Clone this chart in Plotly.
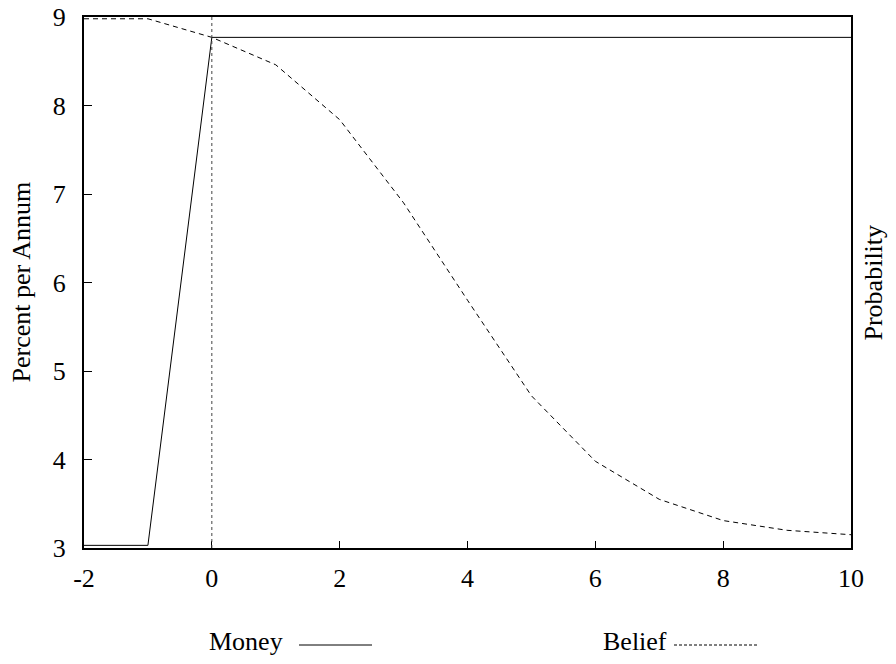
import plotly.graph_objects as go

# values
years = [-2, -1, 0, 1, 2, 3, 4, 5, 6, 7, 8, 9, 10]
money = [3.03, 3.03, 8.77, 8.77, 8.77, 8.77, 8.77, 8.77, 8.77, 8.77, 8.77, 8.77, 8.77]
belief = [8.98, 8.98, 8.77, 8.46, 7.84, 6.90, 5.80, 4.72, 3.98, 3.55, 3.31, 3.20, 3.15]

x_ticks = [-2, 0, 2, 4, 6, 8, 10]
x_labels = ["-2", "0", "2", "4", "6", "8", "10"]
y_ticks = [3, 4, 5, 6, 7, 8, 9]

font = "Liberation Serif, Times New Roman, serif"
fsize = 26

fig = go.Figure()

fig.add_trace(go.Scatter(x=years, y=money, mode="lines", name="Money",
                         line=dict(color="black", width=1)))
fig.add_trace(go.Scatter(x=years, y=belief, mode="lines", name="Belief",
                         line=dict(color="black", width=1, dash="5px,4px")))

# dotted marker at year zero
fig.add_vline(x=0, line=dict(color="#444", width=1, dash="dot"))

# page body adds an 8px margin, so the figure is shrunk to fit the window
fig.update_layout(
    width=880, height=648,
    margin=dict(l=76, r=37, t=9, b=108),
    plot_bgcolor="white", paper_bgcolor="white",
    showlegend=False,
    font=dict(family=font, size=fsize, color="black"),
)

fig.update_xaxes(range=[-2, 10], tickvals=x_ticks, ticktext=x_labels,
                 ticks="inside", ticklen=7, tickwidth=1, tickcolor="black",
                 ticklabelstandoff=6, ticklabeloverflow="allow",
                 showline=True, linewidth=2, linecolor="black", mirror=True,
                 showgrid=False, zeroline=False, automargin=False)
fig.update_yaxes(range=[3, 9], tickvals=y_ticks, ticks="inside", ticklen=8,
                 tickwidth=1, tickcolor="black", ticklabelstandoff=11,
                 ticklabeloverflow="allow",
                 showline=True, linewidth=2, linecolor="black", mirror=True,
                 showgrid=False, zeroline=False, automargin=False)

# axis titles
fig.add_annotation(text="Percent per Annum", xref="paper", yref="paper", x=0, y=0.5,
                   xanchor="center", yanchor="middle", xshift=-63, textangle=-90,
                   showarrow=False)
fig.add_annotation(text="Probability", xref="paper", yref="paper", x=1.0, y=0.5,
                   xanchor="center", yanchor="middle", xshift=22, textangle=-90,
                   showarrow=False)

# gnuplot-style key below the plot: text then line sample
pw = 767.0
ph = 531.0
ty = -93 / ph
ly = -97 / ph
fig.add_annotation(text="Money", xref="paper", yref="paper", x=(207 - 84) / pw, y=ty,
                   xanchor="left", yanchor="middle", showarrow=False)
fig.add_shape(type="line", xref="paper", yref="paper", x0=(299 - 84) / pw,
              x1=(372 - 84) / pw, y0=ly, y1=ly, line=dict(color="black", width=1))
fig.add_annotation(text="Belief", xref="paper", yref="paper", x=(601 - 84) / pw, y=ty,
                   xanchor="left", yanchor="middle", showarrow=False)
fig.add_shape(type="line", xref="paper", yref="paper", x0=(674 - 84) / pw,
              x1=(757 - 84) / pw, y0=ly, y1=ly,
              line=dict(color="black", width=1, dash="3px,2px"))

fig.write_html("out.html")
